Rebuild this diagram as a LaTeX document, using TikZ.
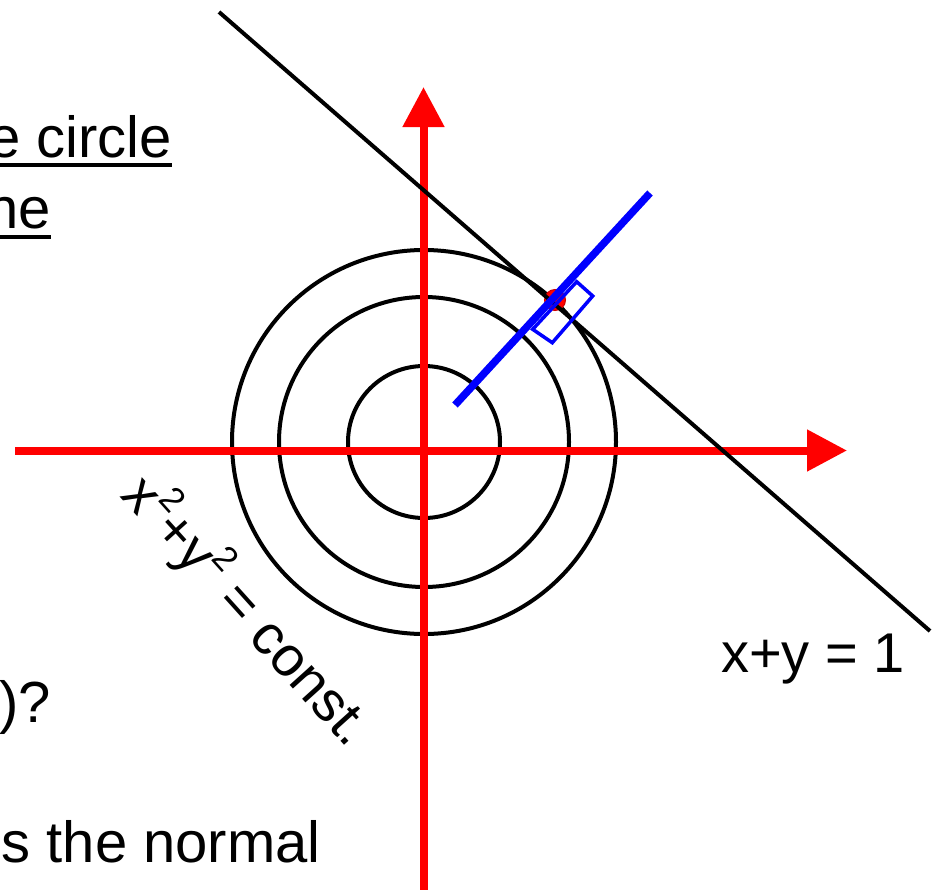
\documentclass[tikz,border=0pt]{standalone}
\usepackage{fontspec}
\setmainfont{Liberation Sans}
\usetikzlibrary{arrows.meta,calc}
\newcommand{\mysq}{\raisebox{0.45em}{\fontsize{35}{35}\selectfont 2}}
\begin{document}
\begin{tikzpicture}[x=1pt,y=-1pt,
  axis/.style={draw=red,line width=8pt,-{Triangle[width=40pt,length=40pt]}},
  ring/.style={draw=black,line width=4pt},
  tangent/.style={draw=black,line width=4pt},
  normalline/.style={draw=blue,line width=7.5pt},
  anglebox/.style={draw=blue,line width=3.5pt,line join=miter},
  txt/.style={inner sep=0pt,font=\fontsize{58}{70}\selectfont},
  lbl/.style={inner sep=0pt,font=\fontsize{56}{66}\selectfont},
  uline/.style={line width=4pt}]
\useasboundingbox (0,0) rectangle (934,889);
% circles
\coordinate (O) at (424,442);
\draw[ring] (O) circle[radius=76];
\draw[ring] (O) circle[radius=145];
\draw[ring] (O) circle[radius=192];
% axes
\coordinate (vb) at (423.5,900);
\coordinate (vt) at (423.5,87);
\coordinate (hl) at (15,450.5);
\coordinate (hr) at (847,450.5);
\draw[axis] (vb) -- (vt);
\draw[axis] (hl) -- (hr);
% tangent point
\coordinate (P) at (555,300);
\fill[red,draw=red!80!black,line width=1pt] (P) circle[radius=10.5];
% tangent line
\coordinate (t1) at (219,12);
\coordinate (t2) at (930,631);
\draw[tangent] (t1) -- (t2);
% normal line
\coordinate (n1) at (455,405);
\coordinate (n2) at (650,193);
\draw[normalline] (n1) -- (n2);
% right-angle box
\coordinate (bA) at (576.7,281.7);
\coordinate (bB) at (592.7,296);
\coordinate (bC) at (552.3,342.7);
\coordinate (bD) at (532.7,329.3);
\draw[anglebox] (bA) -- (bB) -- (bC) -- (bD) -- cycle;
% texts
\node[txt,anchor=base east] (ec) at (172,157) {e circle};
\draw[uline] ($(ec.base west)+(0,8)$) -- ($(ec.base east)+(0,8)$);
\node[txt,anchor=base east] (ne) at (51,228) {ne};
\draw[uline] ($(ne.base west)+(0,9)$) -- ($(ne.base east)+(0,9)$);
\node[txt,anchor=base west] (q) at (-1,722) {)?};
\node[txt,anchor=base east] (sn) at (321,862) {s the normal};
\node[lbl,anchor=base west] (eq) at (721,672) {x+y = 1};
\node[lbl,rotate=-48] (cl) at (248,610) {x\mysq+y\mysq{} = const.};
\end{tikzpicture}
\end{document}
